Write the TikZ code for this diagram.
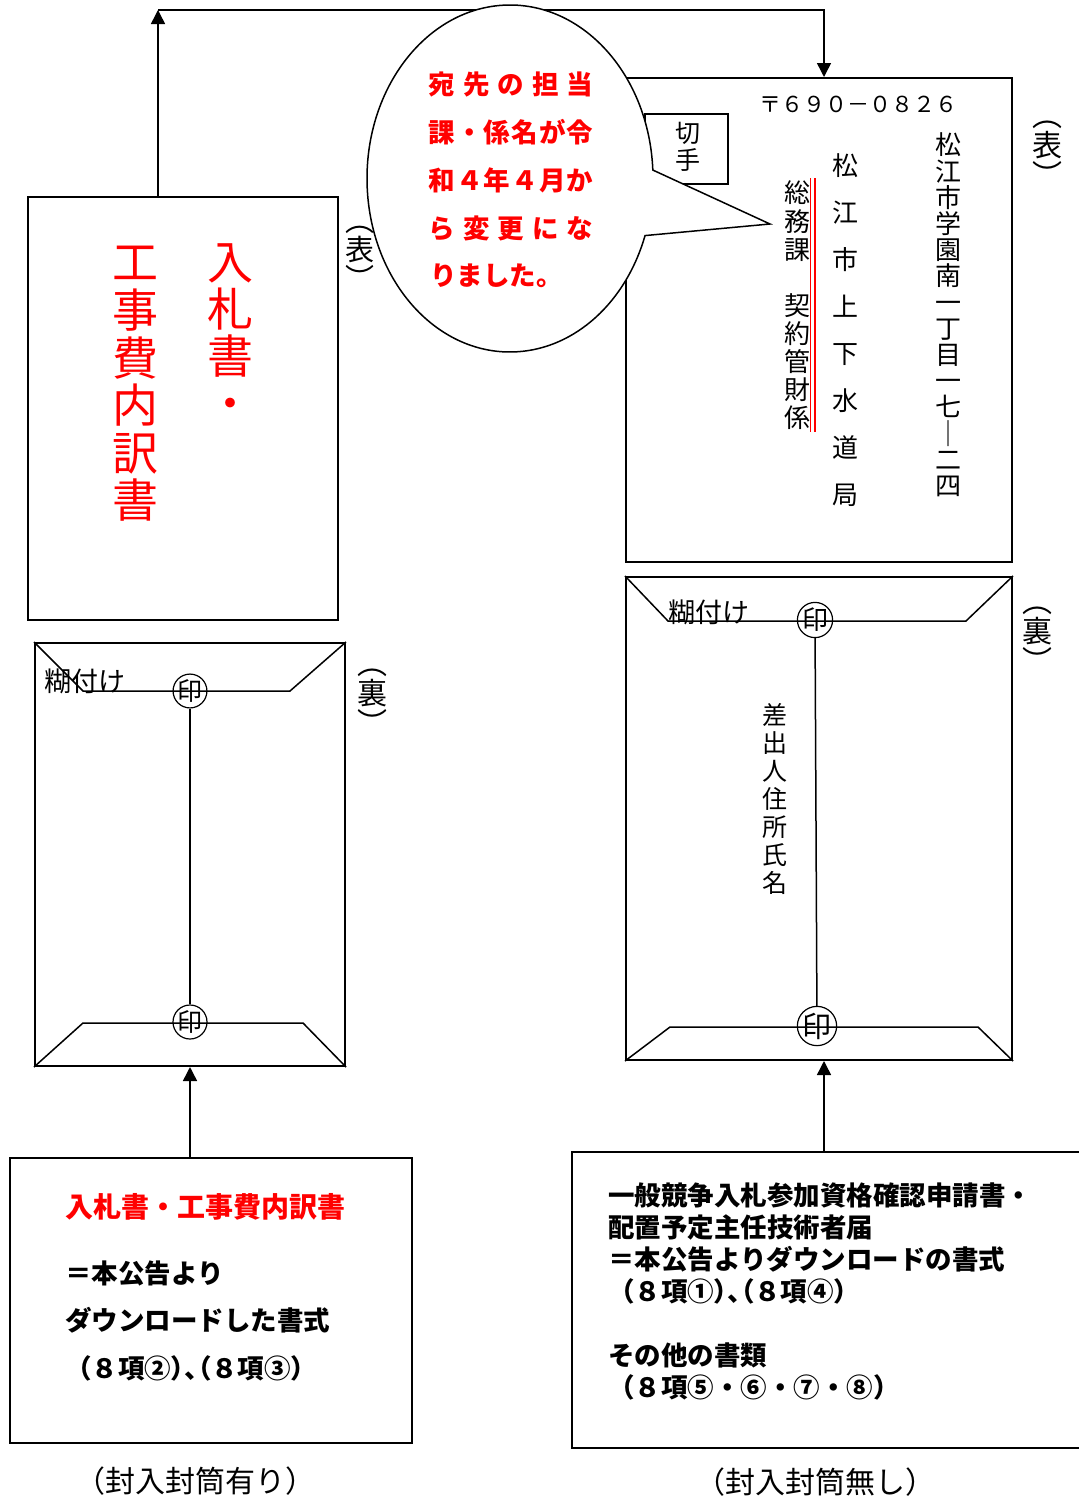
\documentclass[tikz,border=0pt]{standalone}
\usepackage{fontspec}
\setmainfont{Noto Sans CJK JP}
\newfontfamily\jpp{Noto Sans CJK JP}[RawFeature=+palt]
\usetikzlibrary{arrows.meta,fit,shapes.callouts,calc}
\newcommand\fsz[2]{\fontsize{#1}{#2}\selectfont}
\newcommand\tight[1]{{\jpp #1}}
\begin{document}
\begin{tikzpicture}[x=0.5pt,y=-0.5pt,
  env/.style={draw, line width=1pt, inner sep=0pt},
  flap/.style={line width=0.75pt},
  arr/.style={line width=0.75pt, -{Triangle[length=7pt,width=7pt]}},
  vtext/.style={align=center, inner sep=0pt},
  htext/.style={anchor=west, inner sep=0pt},
  seal/.style={circle, draw, line width=0.6pt, inner sep=0pt, minimum size=#1},
  btext/.style={htext, font=\bfseries\fsz{13.25}{13.25}},
  bub/.style={htext, red, font=\bfseries\fsz{13.25}{13.25}}
]
\useasboundingbox (0,0) rectangle (1078,1499);
\fill[white] (0,0) rectangle (1078,1499);

% left front envelope
\node[env, fit={(28,197)(338,620)}] (lf) {};
\node[vtext, red, font=\fsz{23}{23.5}] (lf1) at (230,332) {入\\札\\書\\・};
\node[vtext, red, font=\fsz{23}{23.8}] (lf2) at (135,384) {工\\事\\費\\内\\訳\\書};

% right front envelope
\node[env, fit={(626,78)(1012,562)}] (rf) {};
\coordinate (tl) at (158,10);
\coordinate (tr) at (824,10);
\draw[arr] (lf.north -| tl) -- (tl);
\draw[arr] (tl) -- (tr) -- (rf.north -| tr);

\node[font=\fsz{11}{11}, inner sep=0pt] (zip) at (853,104) {\makebox[94pt][s]{〒\hfill ６\hfill ９\hfill ０\hfill －\hfill ０\hfill ８\hfill ２\hfill ６}};
\node[draw, line width=0.75pt, fit={(645,114)(728,184)}, inner sep=0pt] (stamp) {};
\node[vtext, font=\fsz{12.5}{13.5}] (stampt) at (688,146.5) {切\\手};
\node[vtext, font=\fsz{13}{13.1}] (addr) at (948,315) {松\\江\\市\\学\\園\\南\\一\\丁\\目\\一\\七\\｜\\二\\四};
\node[vtext, font=\fsz{13}{23.5}] (org) at (845,330) {松\\江\\市\\上\\下\\水\\道\\局};
\node[vtext, font=\fsz{13}{14.05}] (dept) at (797,305.5) {総\\務\\課\\　\\契\\約\\管\\財\\係};
\draw[red, line width=0.85pt] (810.5,178) -- (810.5,432) (815,178) -- (815,432);
\node[vtext, font=\fsz{15}{15}] (omote2) at (1047,154) {︵\\表\\︶};

% speech bubble
\node[ellipse callout, draw, fill=white, line width=0.75pt, minimum width=143pt, minimum height=173.5pt, inner sep=0pt, callout absolute pointer={(770,224)}, callout pointer arc=22] (bubble) at (510,178.5) {};
\node[bub] (b1) at (428,84) {\makebox[82.5pt][s]{宛\hfill 先\hfill の\hfill 担\hfill 当}};
\node[bub] (b2) at (428,132) {\makebox[82.5pt][s]{課\hfill ・\hfill 係\hfill 名\hfill が\hfill 令}};
\node[bub] (b3) at (428,180) {\makebox[82.5pt][s]{和\hfill ４\hfill 年\hfill ４\hfill 月\hfill か}};
\node[bub] (b4) at (428,228) {\makebox[82.5pt][s]{ら\hfill 変\hfill 更\hfill に\hfill な}};
\node[bub] (b5) at (430,276) {りました。};

\node[vtext, font=\fsz{14.5}{14.5}] (omote1) at (360,258) {︵\\表\\︶};

% left back envelope
\node[env, fit={(35,643)(345,1066)}] (lb) {};
\draw[flap] (lb.north west) -- (83,691) -- (290,691) -- (lb.north east);
\draw[flap] (lb.south west) -- (83,1023) -- (303,1023) -- (lb.south east);
\node[seal=16.5pt, font=\fsz{12.5}{12.5}] (ls1) at (190,691) {印};
\node[seal=17pt, font=\fsz{12.5}{12.5}] (ls2) at (190,1022) {印};
\draw[flap] (ls1) -- (ls2);
\node[htext, font=\fsz{13.5}{13.5}] (lnori) at (44,681) {糊付け};
\node[vtext, font=\fsz{15}{15}] (ura1) at (372,702) {︵\\裏\\︶};

% right back envelope
\node[env, fit={(626,577)(1012,1060)}] (rb) {};
\draw[flap] (rb.north west) -- (668,621) -- (966,621) -- (rb.north east);
\draw[flap] (rb.south west) -- (670,1027) -- (978,1027) -- (rb.south east);
\node[seal=17.5pt, font=\fsz{13}{13}] (rs1) at (815,620) {印};
\node[seal=19.5pt, font=\fsz{14.5}{14.5}] (rs2) at (817,1026) {印};
\draw[flap] (rs1) -- (rs2);
\node[htext, font=\fsz{13.5}{13.5}] (rnori) at (668,612) {糊付け};
\node[vtext, font=\fsz{12.5}{14}] (sender) at (775,799) {差\\出\\人\\住\\所\\氏\\名};
\node[vtext, font=\fsz{15}{15}] (ura2) at (1037,640) {︵\\裏\\︶};

% bottom boxes
\node[env, fit={(10,1158)(412,1443)}] (lbox) {};
\node[env, fit={(572,1152)(1100,1448)}] (rbox) {};
\draw[arr] (lbox.north -| ls2) -- (lb.south -| ls2);
\draw[arr] (rbox.north -| tr) -- (rb.south -| tr);

\node[htext, red, font=\bfseries\fsz{14}{14}] (lt1) at (65,1207) {入札書・工事費内訳書};
\node[btext] (lt2) at (65,1273) {＝本公告より};
\node[btext] (lt3) at (65,1320) {ダウンロードした書式};
\node[btext] (lt4) at (65,1368) {（８項②\tight{）、（}８項③）};

\node[btext] (rt1) at (608,1195) {一般競争入札参加資格確認申請書・};
\node[btext] (rt2) at (608,1227) {配置予定主任技術者届};
\node[btext] (rt3) at (608,1259) {＝本公告よりダウンロードの書式};
\node[btext] (rt4) at (608,1291) {（８項①\tight{）、（}８項④）};
\node[btext] (rt5) at (608,1355) {その他の書類};
\node[btext] (rt6) at (608,1387) {（８項⑤・⑥・⑦・⑧）};

\node[font=\fsz{15}{15}] (cap1) at (195,1481) {（封入封筒有り）};
\node[font=\fsz{15}{15}] (cap2) at (815,1482) {（封入封筒無し）};
\end{tikzpicture}
\end{document}
